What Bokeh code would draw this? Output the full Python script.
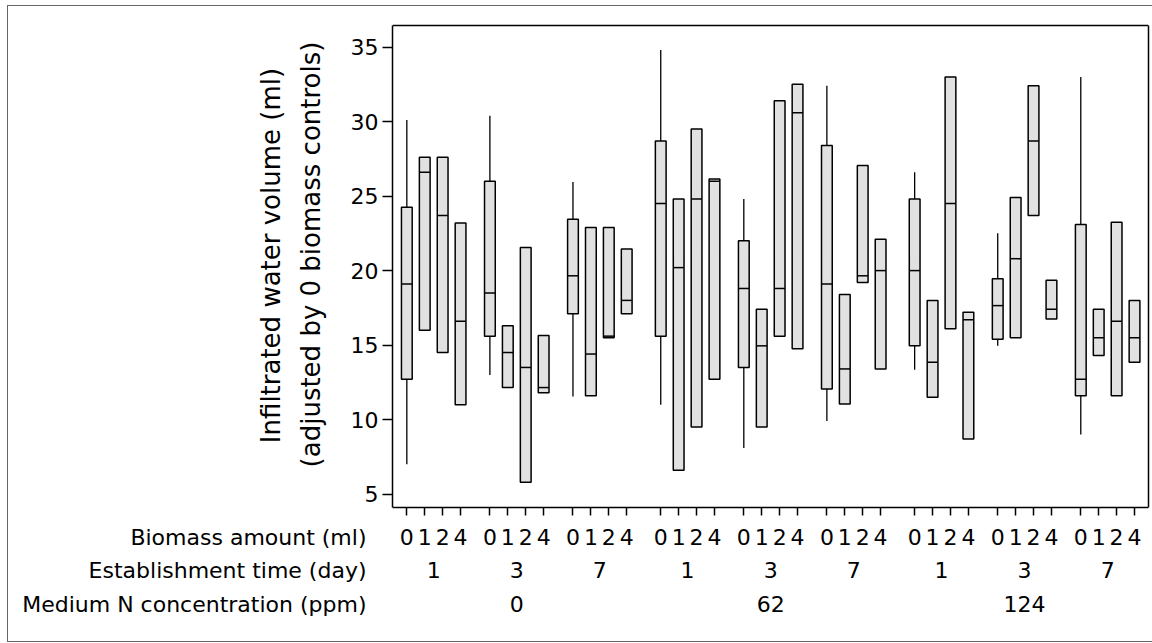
import math
from bokeh.plotting import figure
from bokeh.layouts import row
from bokeh.models import FixedTicker, LinearAxis, Range1d
from bokeh.core.properties import value
from bokeh.embed import file_html
from bokeh.resources import INLINE

# ---- data (order: N concentration > establishment time > biomass) ----
biomass = ["0", "1", "2", "4"]
times = ["1", "3", "7"]
nconc = ["0", "62", "124"]

lower = [7.0, 16.0, 14.5, 11.0,   13.0, 12.15, 5.8, 11.8,   11.55, 11.6, 15.5, 17.1,
         11.0, 6.6, 9.5, 12.7,    8.1, 9.5, 15.6, 14.75,    9.9, 11.05, 19.2, 13.4,
         13.35, 11.5, 16.1, 8.7,  14.95, 15.5, 23.7, 16.75, 9.0, 14.3, 11.6, 13.85]
q1 = [12.7, 16.0, 14.5, 11.0,   15.6, 12.15, 5.8, 11.8,   17.1, 11.6, 15.5, 17.1,
      15.6, 6.6, 9.5, 12.7,     13.5, 9.5, 15.6, 14.75,   12.05, 11.05, 19.2, 13.4,
      14.95, 11.5, 16.1, 8.7,   15.4, 15.5, 23.7, 16.75,  11.6, 14.3, 11.6, 13.85]
median = [19.1, 26.6, 23.7, 16.6,  18.5, 14.5, 13.5, 12.15,  19.65, 14.4, 15.6, 18.0,
          24.5, 20.2, 24.8, 26.0,  18.8, 14.95, 18.8, 30.6,  19.1, 13.4, 19.65, 20.0,
          20.0, 13.85, 24.5, 16.7, 17.65, 20.8, 28.7, 17.4,  12.7, 15.5, 16.6, 15.5]
q3 = [24.25, 27.6, 27.6, 23.2,  26.0, 16.3, 21.55, 15.65,  23.45, 22.9, 22.9, 21.45,
      28.7, 24.8, 29.5, 26.15,  22.0, 17.4, 31.4, 32.5,    28.4, 18.4, 27.05, 22.1,
      24.8, 18.0, 33.0, 17.2,   19.45, 24.9, 32.4, 19.35,  23.1, 17.4, 23.25, 18.0]
upper = [30.1, 27.6, 27.6, 23.2,  30.4, 16.3, 21.55, 15.65,  25.95, 22.9, 22.9, 21.45,
         34.8, 24.8, 29.5, 26.15, 24.8, 17.4, 31.4, 32.5,    32.4, 18.4, 27.05, 22.1,
         26.6, 18.0, 33.0, 17.2,  22.5, 24.9, 32.4, 19.35,   33.0, 17.4, 23.25, 18.0]

y_ticks = [5, 10, 15, 20, 25, 30, 35]
y_title = ["Infiltrated water volume (ml)", "(adjusted by 0 biomass controls)"]
row_titles = ["Biomass amount (ml)", "Establishment time (day)", "Medium N concentration (ppm)"]

# ---- categorical positions ----
time_step = len(biomass) - 1 + 1.637
n_step = (len(times) - 1) * time_step + len(biomass) - 1 + 1.9
xs, bio_labels, time_pos, time_labels = [], {}, [], {}
for ni, n in enumerate(nconc):
    for ti, t in enumerate(times):
        grp = []
        for bi, b in enumerate(biomass):
            x = round(bi + ti * time_step + ni * n_step, 4)
            xs.append(x)
            grp.append(x)
            bio_labels[x] = b
        c = round(sum(grp) / len(grp), 4)
        time_pos.append(c)
        time_labels[c] = t
n_pos, n_labels = [], {}
for ni, n in enumerate(nconc):
    c = time_pos[ni * len(times) + 1]
    n_pos.append(c)
    n_labels[c] = n

FONT = "DejaVu Sans"
TICK_SIZE = "22px"
H = 635                   # figure height in px
TOP_PX, BOT_PX = 19, 134  # visible plot box: 19 px below figure top, 134 px above its bottom
vis_y0, vis_y1 = 4.1, 36.45
px_per_y = (H - TOP_PX - BOT_PX) / (vis_y1 - vis_y0)
y_start = vis_y0 - BOT_PX / px_per_y
y_end = vis_y1 + TOP_PX / px_per_y
x0, x1 = xs[0] - 0.8, xs[-1] + 0.78
bw = 0.6

# ---- main plot ----
p = figure(width=814, height=H, output_backend="svg", toolbar_location=None,
           x_range=Range1d(x0, x1), y_range=Range1d(y_start, y_end),
           min_border_left=54, min_border_right=4, min_border_top=0, min_border_bottom=0)
p.margin = (0, 0, 0, -54)
p.grid.visible = False
p.outline_line_color = None
p.background_fill_color = "white"
p.border_fill_color = None

p.segment(x0=xs, y0=lower, x1=xs, y1=upper, line_color="black", line_width=1.3)
p.vbar(x=xs, width=bw, bottom=q1, top=q3, fill_color="#e1e1e1",
       line_color="black", line_width=1.5)
p.segment(x0=[x - bw / 2 for x in xs], y0=median, x1=[x + bw / 2 for x in xs], y1=median,
          line_color="black", line_width=1.5)

# y axis limited to the visible box
ya = p.yaxis[0]
ya.bounds = (vis_y0, vis_y1)
ya.ticker = FixedTicker(ticks=y_ticks)
ya.major_label_text_font = FONT
ya.major_label_text_font_size = TICK_SIZE
ya.major_label_text_color = "black"
ya.major_label_standoff = 4
ya.major_tick_out = 10
ya.major_tick_in = 0
ya.minor_tick_line_color = None
ya.axis_line_width = 1.5
ya.major_tick_line_width = 1.5

# x axis row 1 (biomass), drawn at the bottom of the visible box
xa = p.xaxis[0]
xa.fixed_location = vis_y0
xa.ticker = FixedTicker(ticks=xs)
xa.major_label_overrides = bio_labels
xa.major_label_text_font = FONT
xa.major_label_text_font_size = TICK_SIZE
xa.major_label_text_color = "black"
xa.major_label_standoff = 13
xa.major_tick_out = 8
xa.major_tick_in = 0
xa.minor_tick_line_color = None
xa.axis_line_width = 1.5
xa.major_tick_line_width = 1.5

def row_axis(ticks, labels, standoff):
    ax = LinearAxis(ticker=FixedTicker(ticks=ticks), major_label_overrides=labels,
                    fixed_location=vis_y0,
                    axis_line_color=None, major_tick_line_color=None,
                    minor_tick_line_color=None, major_tick_out=0, major_tick_in=0,
                    major_label_text_font=FONT, major_label_text_font_size=TICK_SIZE,
                    major_label_text_color="black", major_label_standoff=standoff)
    p.add_layout(ax, "below")

row_axis(time_pos, time_labels, 54)
row_axis(n_pos, n_labels, 88)

# top and right edges of the plot box
top_edge = LinearAxis(ticker=FixedTicker(ticks=[]), fixed_location=vis_y1,
                      axis_line_width=1.5, axis_line_color="black", minor_tick_line_color=None)
p.add_layout(top_edge, "above")
right_edge = LinearAxis(ticker=FixedTicker(ticks=[]), bounds=(vis_y0, vis_y1),
                        axis_line_width=1.5, axis_line_color="black", minor_tick_line_color=None,
                        major_tick_out=0, major_tick_in=0)
p.add_layout(right_edge, "right")

# ---- left panel with the titles (pixel coordinate space, y downwards) ----
left = figure(width=384, height=H, output_backend="svg", toolbar_location=None,
              x_range=Range1d(0, 384), y_range=Range1d(H, 0),
              x_axis_type=None, y_axis_type=None,
              min_border_left=0, min_border_right=0, min_border_top=0, min_border_bottom=0)
left.grid.visible = False
left.outline_line_color = None
left.background_fill_color = None
left.border_fill_color = None

left.text(x=[262, 302], y=[249, 248], text=y_title, angle=math.pi / 2,
          text_align="center", text_baseline="alphabetic",
          text_font=value(FONT), text_font_size="26px", text_color="black")
left.text(x=[358, 358, 358], y=[531, 564, 598], text=row_titles,
          text_align="right", text_baseline="middle",
          text_font=value(FONT), text_font_size=TICK_SIZE, text_color="black")

layout = row(left, p, spacing=0)
layout.styles = {"position": "absolute", "left": "7px", "top": "5px",
                 "border-left": "1px solid #666", "border-top": "1px solid #666",
                 "border-bottom": "1px solid #666"}

open("out.html", "w").write(file_html(layout, INLINE))
